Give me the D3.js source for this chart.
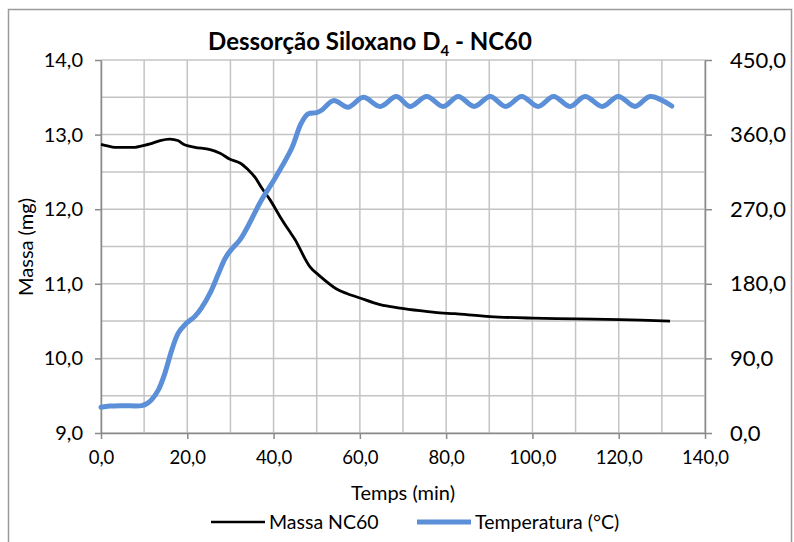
<!DOCTYPE html>
<html lang="pt"><head><meta charset="UTF-8">
<title>Dessorção Siloxano D4 - NC60</title>
<script src="https://cdn.jsdelivr.net/npm/d3@7"></script>
<style>
  body { margin: 0; background: #fff; }
  text { font-family: Lato, "Open Sans", sans-serif; fill: #000; }
</style>
</head>
<body>
<script>
// Massa (mg) vs tempo (min)
var massaT = [0, 1.5, 3.2, 6, 7.9, 9.5, 11.4, 13.7, 16, 17.8, 19.5, 21.8, 25.3, 27.6, 29.9, 32.2, 34.1, 35.8, 37.3, 39.2, 41.5, 43.5, 45, 48.4, 50.4, 54.6, 57, 60, 64.7, 69.3, 73.9, 78.6, 82, 90.2, 100.1, 110.3, 120.3, 131.9];
var massaV = [12.87, 12.85, 12.83, 12.83, 12.83, 12.85, 12.875, 12.92, 12.94, 12.92, 12.86, 12.83, 12.80, 12.75, 12.67, 12.62, 12.53, 12.42, 12.28, 12.125, 11.90, 11.72, 11.59, 11.23, 11.12, 10.93, 10.87, 10.81, 10.72, 10.675, 10.64, 10.61, 10.60, 10.56, 10.54, 10.53, 10.52, 10.50];

// Temperatura (°C) vs tempo (min)
var tempT = [0, 2, 5, 9.4, 10.5, 11.7, 13.3, 14.8, 16.4, 17.9, 19.5, 21.8, 23.3, 25.3, 27.2, 28.7, 30, 32.2, 33.8, 37.2, 40.3, 44.2, 46.4, 48, 50, 51.2, 53.9, 57.3, 60.8, 64.7, 68.5, 71.6, 75.5, 79.3, 82.8, 86.5, 90.2, 93.8, 97.5, 101.3, 104.9, 108.7, 112.2, 116.2, 119.9, 123.8, 127.3, 132.3];
var tempV = [31, 32.5, 33, 33, 35, 40, 52, 72, 100, 120.5, 131, 141, 151, 169, 192, 210, 220, 233, 247, 281, 307, 343.5, 373.7, 385, 386.5, 389.7, 401, 393, 405, 394, 406, 394, 406, 394, 406, 394, 406, 394, 406, 394, 406, 394, 406, 394, 406, 394, 406, 394.5];

var xTicks = [0, 20, 40, 60, 80, 100, 120, 140];
var xGrid = [0, 10, 20, 30, 40, 50, 60, 70, 80, 90, 100, 110, 120, 130, 140];
var yLeftTicks = [9, 10, 11, 12, 13, 14];
var yGrid = [9, 9.5, 10, 10.5, 11, 11.5, 12, 12.5, 13, 13.5, 14];
var yRightTicks = [0, 90, 180, 270, 360, 450];

var w = 794, h = 542;
var pLeft = 101, pRight = 705, pTop = 60, pBottom = 433;

var svg = d3.select("body").append("svg")
  .attr("width", w).attr("height", h);

// chart border
svg.append("rect")
  .attr("x", 8.5).attr("y", 9.5)
  .attr("width", 783).attr("height", 560)
  .attr("fill", "none").attr("stroke", "#9a9a9a").attr("stroke-width", 1.5);

var x = d3.scaleLinear().domain([0, 140]).range([pLeft, pRight]);
var yL = d3.scaleLinear().domain([9, 14]).range([pBottom, pTop]);
var yR = d3.scaleLinear().domain([0, 450]).range([pBottom, pTop]);

var fmt = function(d) { return d.toFixed(1).replace(".", ","); };

// grid
svg.append("g").selectAll("line").data(xGrid).enter().append("line")
  .attr("x1", function(d) { return x(d); }).attr("x2", function(d) { return x(d); })
  .attr("y1", pTop).attr("y2", pBottom)
  .attr("stroke", "#c4c4c4").attr("stroke-width", 1.5);
svg.append("g").selectAll("line").data(yGrid).enter().append("line")
  .attr("x1", pLeft).attr("x2", pRight)
  .attr("y1", function(d) { return yL(d); }).attr("y2", function(d) { return yL(d); })
  .attr("stroke", "#c4c4c4").attr("stroke-width", 1.5);

function styleAxis(g, size) {
  g.selectAll("path, line").attr("stroke", "#8a8a8a").attr("stroke-width", 1.5);
  g.selectAll("text").style("font-size", size + "px").attr("fill", "#000");
}

var gx = svg.append("g").attr("transform", "translate(0," + pBottom + ")")
  .call(d3.axisBottom(x).tickValues(xTicks).tickFormat(fmt).tickSizeInner(6).tickSizeOuter(0).tickPadding(12));
styleAxis(gx, 18.5);

var gl = svg.append("g").attr("transform", "translate(" + pLeft + ",0)")
  .call(d3.axisLeft(yL).tickValues(yLeftTicks).tickFormat(fmt).tickSizeInner(6).tickSizeOuter(0).tickPadding(12));
styleAxis(gl, 20);

var gr = svg.append("g").attr("transform", "translate(" + pRight + ",0)")
  .call(d3.axisRight(yR).tickValues(yRightTicks).tickFormat(fmt).tickSizeInner(7).tickSizeOuter(0).tickPadding(18));
styleAxis(gr, 22);

// lines
var massa = massaT.map(function(t, i) { return [t, massaV[i]]; });
var temp = tempT.map(function(t, i) { return [t, tempV[i]]; });

svg.append("path").datum(massa)
  .attr("fill", "none").attr("stroke", "#000").attr("stroke-width", 2.8)
  .attr("d", d3.line().curve(d3.curveCatmullRom.alpha(0.5))
    .x(function(d) { return x(d[0]); }).y(function(d) { return yL(d[1]); }));

svg.append("path").datum(temp)
  .attr("fill", "none").attr("stroke", "#5b8fd7").attr("stroke-width", 5)
  .attr("stroke-linecap", "round")
  .attr("d", d3.line().curve(d3.curveCatmullRom.alpha(0.5))
    .x(function(d) { return x(d[0]); }).y(function(d) { return yR(d[1]); }));

// title
var title = svg.append("text").attr("x", 370).attr("y", 50)
  .attr("text-anchor", "middle").style("font-size", "24px").style("font-weight", "bold");
title.append("tspan").text("Dessorção Siloxano D");
title.append("tspan").attr("dy", 6).style("font-size", "15px").text("4");
title.append("tspan").attr("dy", -6).text(" - NC60");

// axis titles
svg.append("text").attr("x", 403).attr("y", 500)
  .attr("text-anchor", "middle").style("font-size", "20px").text("Temps (min)");
svg.append("text").attr("transform", "translate(33,247) rotate(-90)")
  .attr("text-anchor", "middle").style("font-size", "20px").text("Massa (mg)");

// legend
var legend = [
  { name: "Massa NC60", color: "#000", width: 2.5, x: 211 },
  { name: "Temperatura (°C)", color: "#5b8fd7", width: 5, x: 417 }
];
var lg = svg.append("g").selectAll("g").data(legend).enter().append("g");
lg.append("line")
  .attr("x1", function(d) { return d.x; }).attr("x2", function(d) { return d.x + 54; })
  .attr("y1", 522).attr("y2", 522)
  .attr("stroke", function(d) { return d.color; })
  .attr("stroke-width", function(d) { return d.width; });
lg.append("text")
  .attr("x", function(d) { return d.x + 58; }).attr("y", 529)
  .style("font-size", "19.5px").text(function(d) { return d.name; });
</script>
</body></html>
